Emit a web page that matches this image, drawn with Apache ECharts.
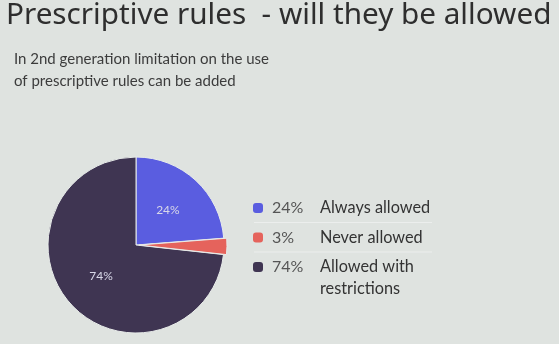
<!DOCTYPE html>
<html><head><meta charset="utf-8">
<script src="https://cdn.jsdelivr.net/npm/echarts@6/dist/echarts.min.js"></script>
<style>html,body{margin:0;padding:0;background:#dfe3e0}#c{width:559px;height:344px}</style>
</head><body><div id="c"></div>
<script>
const titleText = 'Prescriptive rules  - will they be allowed';
const subtitleLines = ['In 2nd generation limitation on the use', 'of prescriptive rules can be added'];
const categories = ['Always allowed', 'Never allowed', 'Allowed with\nrestrictions'];
const values = [24, 3, 74];
const colors = ['#5a5de0', '#e5635c', '#3f3552'];

const chart = echarts.init(document.getElementById('c'), null, {renderer: 'canvas'});
const legendX = 258, legendY0 = 208, rowH = 29.5;
const FF = 'Lato';
const graphics = [];
categories.forEach((name, i) => {
  const y = legendY0 + i * rowH;
  graphics.push({type: 'rect', left: legendX - 5, top: y - 5, shape: {width: 10, height: 10, r: 3}, style: {fill: colors[i]}});
  graphics.push({type: 'text', left: 272, top: y - 11, style: {text: values[i] + '%', font: '16px ' + FF, fill: '#555', lineHeight: 22}});
  graphics.push({type: 'text', left: 320, top: y - 11, style: {text: name, font: '16.3px ' + FF, fill: '#333', lineHeight: 22}});
  if (i < categories.length - 1) {
    graphics.push({type: 'line', shape: {x1: 254, y1: y + 14.5, x2: 432, y2: y + 14.5}, style: {stroke: '#eceeed', lineWidth: 1}});
  }
});
graphics.push({type: 'text', left: 6, top: 1, style: {text: titleText, font: '29.7px "Noto Sans"', fill: '#2e2e2e'}});
subtitleLines.forEach((t, i) => {
  graphics.push({type: 'text', left: 14, top: 52 + i * 22, style: {text: t, font: '15px ' + FF, fill: '#3c3c3c'}});
});

chart.setOption({
  backgroundColor: '#dfe3e0',
  animation: false,
  graphic: graphics,
  series: [{
    type: 'pie',
    center: [136, 245],
    radius: [0, 88],
    startAngle: 90,
    clockwise: true,
    selectedMode: 'single',
    selectedOffset: 3,
    color: colors,
    itemStyle: {borderColor: '#e8ecea', borderWidth: 1},
    label: {
      position: 'inside',
      color: '#d8d8e8',
      fontSize: 12,
      fontFamily: FF,
      formatter: p => p.value >= 10 ? p.value + '%' : ''
    },
    labelLine: {show: false},
    data: categories.map((n, i) => ({name: n, value: values[i], selected: i === 1}))
  }]
});
</script></body></html>
